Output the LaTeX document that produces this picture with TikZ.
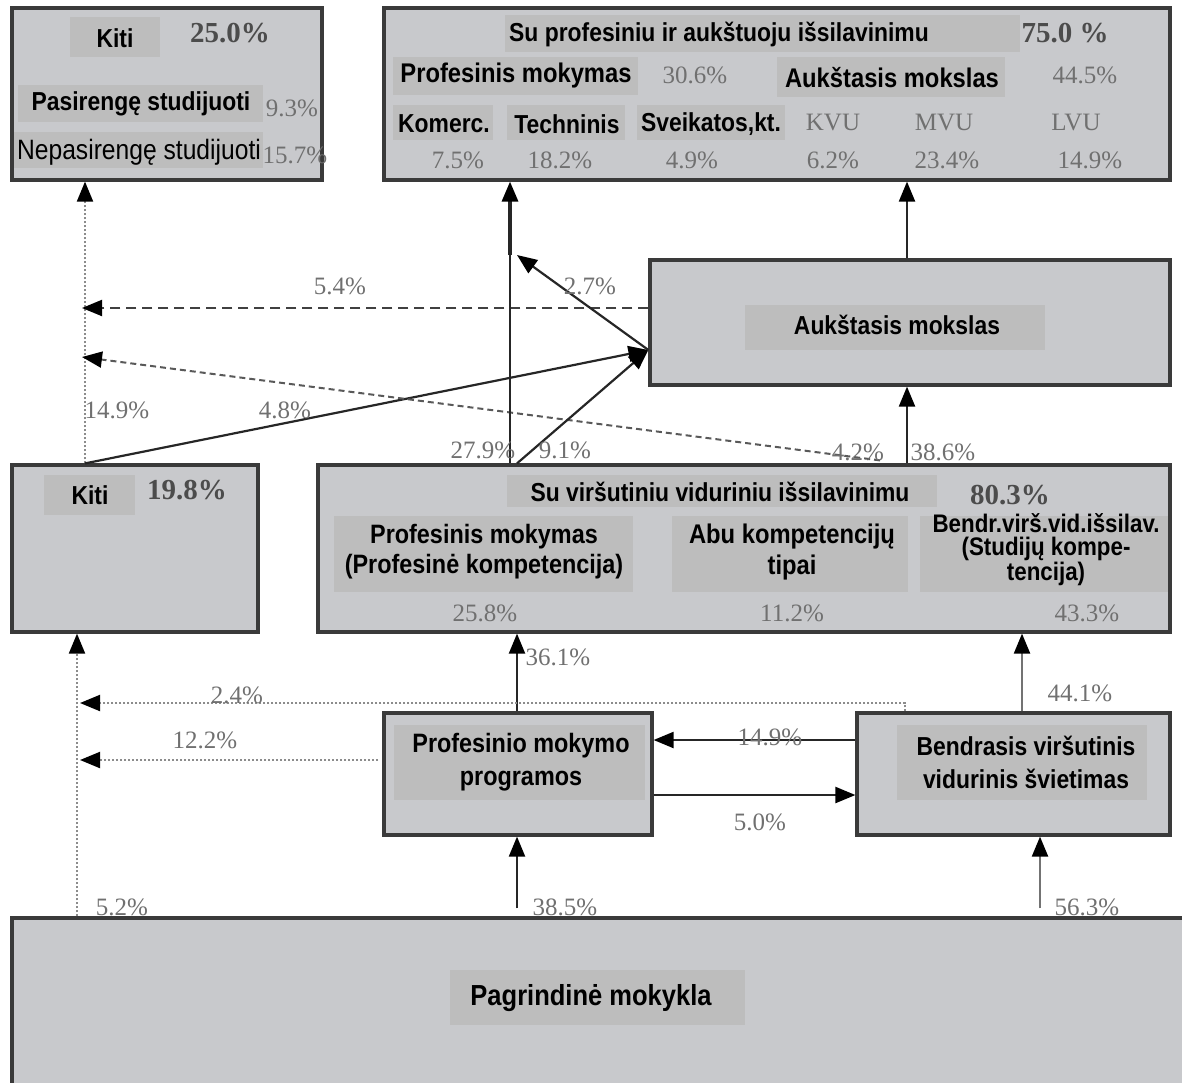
\documentclass[tikz,border=0pt]{standalone}
\usepackage{fontspec}
\setmainfont{Liberation Serif}
\newfontfamily\lsans[FakeStretch=0.88]{Liberation Sans}
\usetikzlibrary{arrows.meta,fit,calc}
\definecolor{boxfill}{HTML}{C8C9CC}
\definecolor{lblfill}{HTML}{BDBDBD}
\definecolor{edgec}{HTML}{3A3A3A}
\definecolor{pct}{HTML}{707070}
\begin{document}
\begin{tikzpicture}[x=0.5pt,y=-0.5pt,
  box/.style={draw=edgec, line width=1.6pt, fill=boxfill, inner sep=0pt},
  bg/.style={fill=lblfill, inner sep=0pt},
  tx/.style={inner sep=0pt, text=black, align=center,
    font=\lsans\bfseries\fontsize{13}{16}\selectfont},
  pc/.style={inner sep=0pt, text=pct, font=\fontsize{12.5}{13}\selectfont},
  pcb/.style={inner sep=0pt, text=black!70, font=\bfseries\fontsize{14.5}{15}\selectfont},
  tip/.style={},
  arr/.style={-{Triangle[length=10pt,width=8pt,color=black]}, line width=1.1pt, draw=black!85},
  garr/.style={arr, draw=black!55},
  dotarr/.style={-{Triangle[length=10pt,width=8pt,color=black]}, line width=1pt, draw=black!45, densely dotted},
  dasharr/.style={-{Triangle[length=10pt,width=8pt,color=black]}, line width=1pt, draw=black!75, dash pattern=on 5pt off 3pt},
  dash2arr/.style={-{Triangle[length=10pt,width=8pt,color=black]}, line width=1pt, draw=black!65, dash pattern=on 3pt off 2pt},
]
\useasboundingbox (0,0) rectangle (1182,1082);

% ---------- boxes ----------
\node[box, fit={(12,8) (322,180)}] (kT) {};
\node[box, fit={(384,8) (1170,180)}] (pT) {};
\node[box, fit={(650,260) (1170,385)}] (am) {};
\node[box, fit={(12,465) (258,632)}] (kL) {};
\node[box, fit={(318,465) (1170,632)}] (mid) {};
\node[box, fit={(384,713) (652,835)}] (pm) {};
\node[box, fit={(857,713) (1170,835)}] (bv) {};
\node[box, fit={(12,918) (1185,1085)}] (bot) {};

% ---------- label backgrounds ----------
\node[bg, fit={(70,17) (160,57)}] (bK1) {};
\node[bg, fit={(18,85) (263,122)}] (bPas) {};
\node[bg, fit={(14,132) (263,168)}] (bNep) {};
\node[bg, fit={(505,15) (1020,52)}] (bSu) {};
\node[bg, fit={(393,57) (638,95)}] (bPM) {};
\node[bg, fit={(777,57) (1005,97)}] (bAM) {};
\node[bg, fit={(393,105) (493,140)}] (bKom) {};
\node[bg, fit={(507,105) (625,140)}] (bTech) {};
\node[bg, fit={(637,105) (785,140)}] (bSv) {};
\node[bg, fit={(745,305) (1045,350)}] (bAM2) {};
\node[bg, fit={(44,475) (135,515)}] (bK2) {};
\node[bg, fit={(507,475) (937,507)}] (bMid) {};
\node[bg, fit={(334,516) (633,592)}] (bPK) {};
\node[bg, fit={(672,516) (908,592)}] (bAbu) {};
\node[bg, fit={(920,516) (1168,592)}] (bBen) {};
\node[bg, fit={(394,725) (645,800)}] (bPMP) {};
\node[bg, fit={(897,725) (1147,800)}] (bBVS) {};
\node[bg, fit={(450,970) (745,1025)}] (bPag) {};

% ---------- top-left box texts ----------
\node[tx] (tK1) at (115,38) {Kiti};
\node[pcb] (tK1p) at (230,33) {25.0\%};
\node[tx] (tPas) at (141,104) {Pasirengę studijuoti};
\node[pc] (tPasp) at (292,108) {9.3\%};
\node[tx, font=\lsans\fontsize{14}{16}\selectfont] (tNep) at (139,152) {Nepasirengę studijuoti};
\node[pc] (tNepp) at (295,155) {15.7\%};

% ---------- top-right box texts ----------
\node[tx] (tSu) at (719,34) {Su profesiniu ir aukštuoju išsilavinimu};
\node[pcb] (tSup) at (1065,33) {75.0 \%};
\node[tx, font=\lsans\bfseries\fontsize{13.5}{16}\selectfont] (tPM) at (516,76) {Profesinis mokymas};
\node[pc] (tPMp) at (695,75) {30.6\%};
\node[tx, font=\lsans\bfseries\fontsize{13.5}{16}\selectfont] (tAM) at (892,78) {Aukštasis mokslas};
\node[pc] (tAMp) at (1085,75) {44.5\%};
\node[tx] (tKom) at (444,124) {Komerc.};
\node[tx] (tTech) at (567,124) {Techninis};
\node[tx] (tSv) at (711,124) {Sveikatos,kt.};
\node[pc] (tKVU) at (833,122) {KVU};
\node[pc] (tMVU) at (944,122) {MVU};
\node[pc] (tLVU) at (1076,122) {LVU};
\node[pc] (p75) at (458,160) {7.5\%};
\node[pc] (p182) at (560,160) {18.2\%};
\node[pc] (p49) at (692,160) {4.9\%};
\node[pc] (p62) at (833,160) {6.2\%};
\node[pc] (p234) at (947,160) {23.4\%};
\node[pc] (p149) at (1090,160) {14.9\%};

% ---------- Aukstasis mokslas ----------
\node[tx] (tAM2) at (897,325) {Aukštasis mokslas};

% ---------- left Kiti ----------
\node[tx] (tK2) at (90,495) {Kiti};
\node[pcb] (tK2p) at (187,490) {19.8\%};

% ---------- middle box ----------
\node[tx] (tMid) at (720,492) {Su viršutiniu viduriniu išsilavinimu};
\node[pcb] (tMidp) at (1010,495) {80.3\%};
\node[tx, font=\lsans\bfseries\fontsize{13.3}{15}\selectfont] (tPK) at (484,552) {Profesinis mokymas\\(Profesinė kompetencija)};
\node[tx, font=\lsans\bfseries\fontsize{13.5}{15.5}\selectfont] (tAbu) at (792,552) {Abu kompetencijų\\tipai};
\node[tx, font=\lsans\bfseries\fontsize{12.7}{11.3}\selectfont] (tBen) at (1046,550) {Bendr.virš.vid.išsilav.\\(Studijų kompe-\\tencija)};
\node[pc] (p258) at (485,613) {25.8\%};
\node[pc] (p112) at (792,613) {11.2\%};
\node[pc] (p433) at (1087,613) {43.3\%};

% ---------- lower boxes ----------
\node[tx, font=\lsans\bfseries\fontsize{13.3}{16.5}\selectfont] (tPMP) at (521,762) {Profesinio mokymo\\programos};
\node[tx, font=\lsans\bfseries\fontsize{13}{16.5}\selectfont] (tBVS) at (1026,762) {Bendrasis viršutinis\\vidurinis švietimas};
\node[tx, font=\lsans\bfseries\fontsize{14.5}{16}\selectfont] (tPag) at (591,998) {Pagrindinė mokykla};

% ---------- helper coordinates ----------
\coordinate (x77) at (77,0);
\coordinate (x85) at (85,0);
\coordinate (x510) at (510,0);
\coordinate (x517) at (517,0);
\coordinate (x880) at (880,0);
\coordinate (x905) at (905,0);
\coordinate (x907) at (907,0);
\coordinate (x1022) at (1022,0);
\coordinate (x1040) at (1040,0);
\coordinate (y308) at (0,308);
\coordinate (y350) at (0,350);
\coordinate (y740) at (0,740);
\coordinate (y760) at (0,760);
\coordinate (y795) at (0,795);
\coordinate (e24) at (80,703);
\coordinate (c24) at (905,703);
\coordinate (e122) at (80,760);
\coordinate (s122) at (378,760);
\coordinate (e54) at (82,308);
\coordinate (e42) at (82,357);
\coordinate (j27) at (510,255);
\coordinate (t27) at (517,255);

% ---------- connectors ----------
\draw[dotarr] (bot.north -| x77) -- (kL.south -| x77);
\draw[arr] ([yshift=4pt]bot.north -| x517) -- (pm.south -| x517);
\draw[garr] ([yshift=4pt]bot.north -| x1040) -- (bv.south -| x1040);
\draw[arr] (pm.north -| x517) -- (mid.south -| x517);
\draw[garr] (bv.north -| x1022) -- (mid.south -| x1022);
\draw[arr] (bv.west |- y740) -- (pm.east |- y740);
\draw[arr] (pm.east |- y795) -- (bv.west |- y795);
\draw[dotarr] (bv.north -| x905) -- (c24) -- (e24);
\draw[dotarr] (s122) -- (e122);
\draw[dotarr] (kL.north -| x85) -- (kT.south -| x85);
\draw[arr] (kL.north -| x85) -- (am.west |- y350);
\draw[dasharr] (am.west |- y308) -- (e54);
\draw[dash2arr] ([yshift=1.5pt]mid.north -| x880) -- (e42);
\draw[line width=0.8pt, draw=black!85] (mid.north -| x510) -- (j27);
\draw[arr, line width=1.6pt] (j27) -- (pT.south -| x510);
\draw[arr] (mid.north -| x517) -- (am.west |- y350);
\draw[arr] (am.west |- y350) -- (t27);
\draw[arr] (mid.north -| x907) -- (am.south -| x907);
\draw[arr] (am.north -| x907) -- (pT.south -| x907);

% ---------- connector labels ----------
\node[pc] (l52) at (122,907) {5.2\%};
\node[pc] (l385) at (565,907) {38.5\%};
\node[pc] (l563) at (1087,907) {56.3\%};
\node[pc] (l361) at (558,657) {36.1\%};
\node[pc] (l441) at (1080,693) {44.1\%};
\node[pc] (l149b) at (770,737) {14.9\%};
\node[pc] (l50) at (760,822) {5.0\%};
\node[pc] (l24) at (237,695) {2.4\%};
\node[pc] (l122) at (205,740) {12.2\%};
\node[pc] (l149a) at (117,410) {14.9\%};
\node[pc] (l48) at (285,410) {4.8\%};
\node[pc] (l54) at (340,286) {5.4\%};
\node[pc] (l27) at (590,286) {2.7\%};
\node[pc] (l279) at (483,450) {27.9\%};
\node[pc] (l91) at (565,450) {9.1\%};
\node[pc] (l42) at (858,452) {4.2\%};
\node[pc] (l386) at (943,452) {38.6\%};
\end{tikzpicture}
\end{document}
